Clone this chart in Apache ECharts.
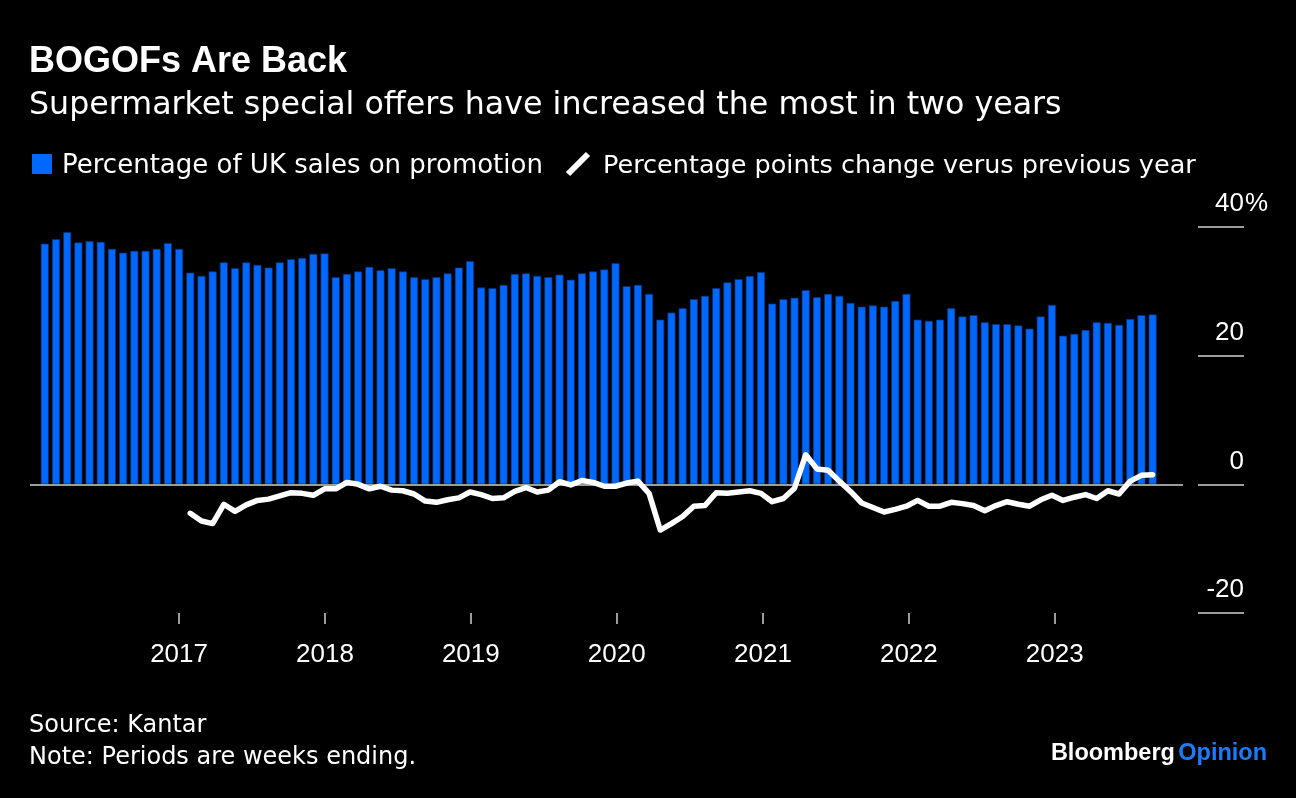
<!DOCTYPE html>
<html><head><meta charset="utf-8">
<script src="https://cdn.jsdelivr.net/npm/echarts@6/dist/echarts.min.js"></script>
<style>html,body{margin:0;padding:0;background:#000;}#chart{width:1296px;height:798px;}</style>
</head><body><div id="chart"></div>
<script>
// Kantar 4-week periods (period-end dates)
const periodEnd = [
'2016-01-31','2016-02-28','2016-03-27','2016-04-24','2016-05-22','2016-06-19','2016-07-17','2016-08-14','2016-09-11','2016-10-09',
'2016-11-06','2016-12-04','2017-01-01','2017-01-29','2017-02-26','2017-03-26','2017-04-23','2017-05-21','2017-06-18','2017-07-16',
'2017-08-13','2017-09-10','2017-10-08','2017-11-05','2017-12-03','2017-12-31','2018-01-28','2018-02-25','2018-03-25','2018-04-22',
'2018-05-20','2018-06-17','2018-07-15','2018-08-12','2018-09-09','2018-10-07','2018-11-04','2018-12-02','2018-12-30','2019-01-27',
'2019-02-24','2019-03-24','2019-04-21','2019-05-19','2019-06-16','2019-07-14','2019-08-11','2019-09-08','2019-10-06','2019-11-03',
'2019-12-01','2019-12-29','2020-01-26','2020-02-23','2020-03-22','2020-04-19','2020-05-17','2020-06-14','2020-07-12','2020-08-09',
'2020-09-06','2020-10-04','2020-11-01','2020-11-29','2020-12-27','2021-01-24','2021-02-21','2021-03-21','2021-04-18','2021-05-16',
'2021-06-13','2021-07-11','2021-08-08','2021-09-05','2021-10-03','2021-10-31','2021-11-28','2021-12-26','2022-01-23','2022-02-20',
'2022-03-20','2022-04-17','2022-05-15','2022-06-12','2022-07-10','2022-08-07','2022-09-04','2022-10-02','2022-10-30','2022-11-27',
'2022-12-25','2023-01-22','2023-02-19','2023-03-19','2023-04-16','2023-05-14','2023-06-11','2023-07-09','2023-08-06','2023-09-03'
];
// Percentage of UK sales on promotion
const promoShare = [
37.4,38.1,39.2,37.6,37.8,37.7,36.6,36.0,36.3,36.3,
36.6,37.5,36.6,32.9,32.4,33.1,34.5,33.6,34.5,34.1,
33.7,34.5,35.0,35.2,35.8,35.9,32.2,32.7,33.1,33.8,
33.3,33.6,33.1,32.2,31.9,32.2,32.8,33.7,34.7,30.6,
30.5,31.0,32.7,32.8,32.4,32.2,32.6,31.8,32.8,33.1,
33.4,34.4,30.8,31.0,29.6,25.6,26.7,27.4,28.8,29.3,
30.5,31.4,31.9,32.4,33.0,28.1,28.8,29.0,30.2,29.1,
29.6,29.3,28.2,27.6,27.8,27.6,28.5,29.6,25.6,25.4,
25.6,27.4,26.1,26.3,25.2,24.9,24.9,24.7,24.2,26.1,
27.9,23.1,23.4,24.0,25.2,25.1,24.8,25.7,26.3,26.4
];
// Percentage points change versus previous year
const yoyChange = [
null,null,null,null,null,null,null,null,null,null,
null,null,null,-4.5,-5.7,-6.1,-3.1,-4.2,-3.2,-2.5,
-2.3,-1.8,-1.3,-1.4,-1.7,-0.7,-0.7,0.3,0.0,-0.7,
-0.3,-0.9,-1.0,-1.5,-2.6,-2.8,-2.4,-2.1,-1.2,-1.6,
-2.2,-2.1,-1.1,-0.5,-1.2,-0.9,0.4,-0.1,0.6,0.3,
-0.3,-0.3,0.2,0.5,-1.4,-7.1,-6.1,-5.0,-3.4,-3.3,
-1.3,-1.4,-1.2,-1.0,-1.4,-2.7,-2.2,-0.6,4.6,2.4,
2.2,0.5,-1.1,-2.9,-3.6,-4.3,-3.9,-3.4,-2.5,-3.4,
-3.4,-2.8,-3.0,-3.3,-4.1,-3.3,-2.7,-3.1,-3.4,-2.4,
-1.7,-2.5,-2.0,-1.6,-2.2,-1.0,-1.5,0.5,1.4,1.5
];
const yearTicks = ['2017-01-01','2018-01-01','2019-01-01','2020-01-01','2021-01-01','2022-01-01','2023-01-01'];
const yTickValues = [-20, 0, 20, 40];
const seriesNames = ['Percentage of UK sales on promotion', 'Percentage points change verus previous year'];

function toTime(s) { const p = s.split('-').map(Number); return new Date(p[0], p[1] - 1, p[2]).getTime(); }
const yearTickValues = yearTicks.map(toTime);

const chart = echarts.init(document.getElementById('chart'), null, {renderer: 'canvas'});
const REG = '"DejaVu Sans"';
const NUM = '"Liberation Sans", Arial, sans-serif';

chart.setOption({
  backgroundColor: '#000',
  animation: false,
  grid: {left: 30, right: 113, top: 227, bottom: 185, containLabel: false},
  xAxis: {
    type: 'value',
    min: toTime('2015-12-25'),
    max: toTime('2023-11-18'),
    axisLine: {show: false, onZero: false},
    splitLine: {show: false},
    axisTick: {show: true, customValues: yearTickValues, length: 11, lineStyle: {color: '#cfcfcf', width: 1.5}},
    axisLabel: {show: true, customValues: yearTickValues, formatter: v => String(new Date(v).getFullYear()),
      color: '#fff', fontSize: 26, fontFamily: NUM, margin: 29}
  },
  yAxis: {
    type: 'value', position: 'right', min: -20, max: 40, interval: 20, offset: 15,
    axisLine: {show: false},
    splitLine: {show: false},
    axisTick: {show: true, length: 46, inside: false, lineStyle: {color: '#cfcfcf', width: 1.5}},
    axisLabel: {
      inside: false, margin: 46, align: 'right', verticalAlign: 'bottom', padding: [0, 0, 10, 0],
      color: '#fff', fontSize: 26, fontFamily: NUM,
      formatter: v => String(v)
    }
  },
  series: [
    {
      type: 'bar', name: seriesNames[0],
      data: periodEnd.map((d, i) => [toTime(d), promoShare[i]]),
      barWidth: 8,
      itemStyle: {color: '#0068ff', borderColor: '#0b2f70', borderWidth: 0.7},
      markLine: {silent: true, symbol: 'none', label: {show: false}, animation: false,
        lineStyle: {color: '#cfcfcf', width: 1.5, type: 'solid'}, data: [{yAxis: 0}]},
      z: 2
    },
    {
      type: 'line', name: seriesNames[1],
      data: periodEnd.map((d, i) => [toTime(d), yoyChange[i] === null ? '-' : yoyChange[i]]),
      showSymbol: false, symbol: 'none',
      lineStyle: {color: '#fff', width: 5.5, cap: 'round', join: 'round'},
      itemStyle: {color: '#fff'},
      z: 5
    }
  ],
  graphic: [
    {type: 'text', x: 29, y: 62.5, style: {text: 'BOGOFs Are Back', font: 'bold 36px "Liberation Sans"', fill: '#fff', verticalAlign: 'middle'}},
    {type: 'text', x: 29, y: 106, style: {text: 'Supermarket special offers have increased the most in two years', font: '31.7px ' + REG, fill: '#fff', verticalAlign: 'middle'}},
    {type: 'rect', shape: {x: 32, y: 154, width: 20, height: 20}, style: {fill: '#0068ff'}},
    {type: 'text', x: 62, y: 166, style: {text: seriesNames[0], font: '26px ' + REG, fill: '#fff', verticalAlign: 'middle'}},
    {type: 'line', shape: {x1: 568, y1: 174, x2: 588, y2: 154}, style: {stroke: '#fff', lineWidth: 6}},
    {type: 'text', x: 603, y: 166, style: {text: seriesNames[1], font: '25.5px ' + REG, fill: '#fff', verticalAlign: 'middle'}},
    {type: 'text', x: 29, y: 726, style: {text: 'Source: Kantar', font: '24px ' + REG, fill: '#fff', verticalAlign: 'middle'}},
    {type: 'text', x: 29, y: 758, style: {text: 'Note: Periods are weeks ending.', font: '24px ' + REG, fill: '#fff', verticalAlign: 'middle'}},
    {type: 'text', x: 1267, y: 754, style: {text: '{b|Bloomberg} {o|Opinion}', align: 'right', verticalAlign: 'middle',
      rich: {b: {font: 'bold 23.5px "Liberation Sans"', fill: '#fff'}, o: {font: 'bold 23.5px "Liberation Sans"', fill: '#1a7cff'}}}}
  ]
});

// percent sign hanging after the top y-axis label, placed through the axis scale
const topY = chart.convertToPixel({yAxisIndex: 0}, yTickValues[3]);
const gridRight = chart.convertToPixel({xAxisIndex: 0}, toTime('2023-11-18'));
chart.setOption({graphic: [{id: 'pct', type: 'text', x: gridRight + 15 + 46 + 1, y: topY,
  style: {text: '%', font: '26px "Liberation Sans"', fill: '#fff', align: 'left', verticalAlign: 'bottom', padding: [0, 0, 10, 0]}}]});
</script></body></html>
